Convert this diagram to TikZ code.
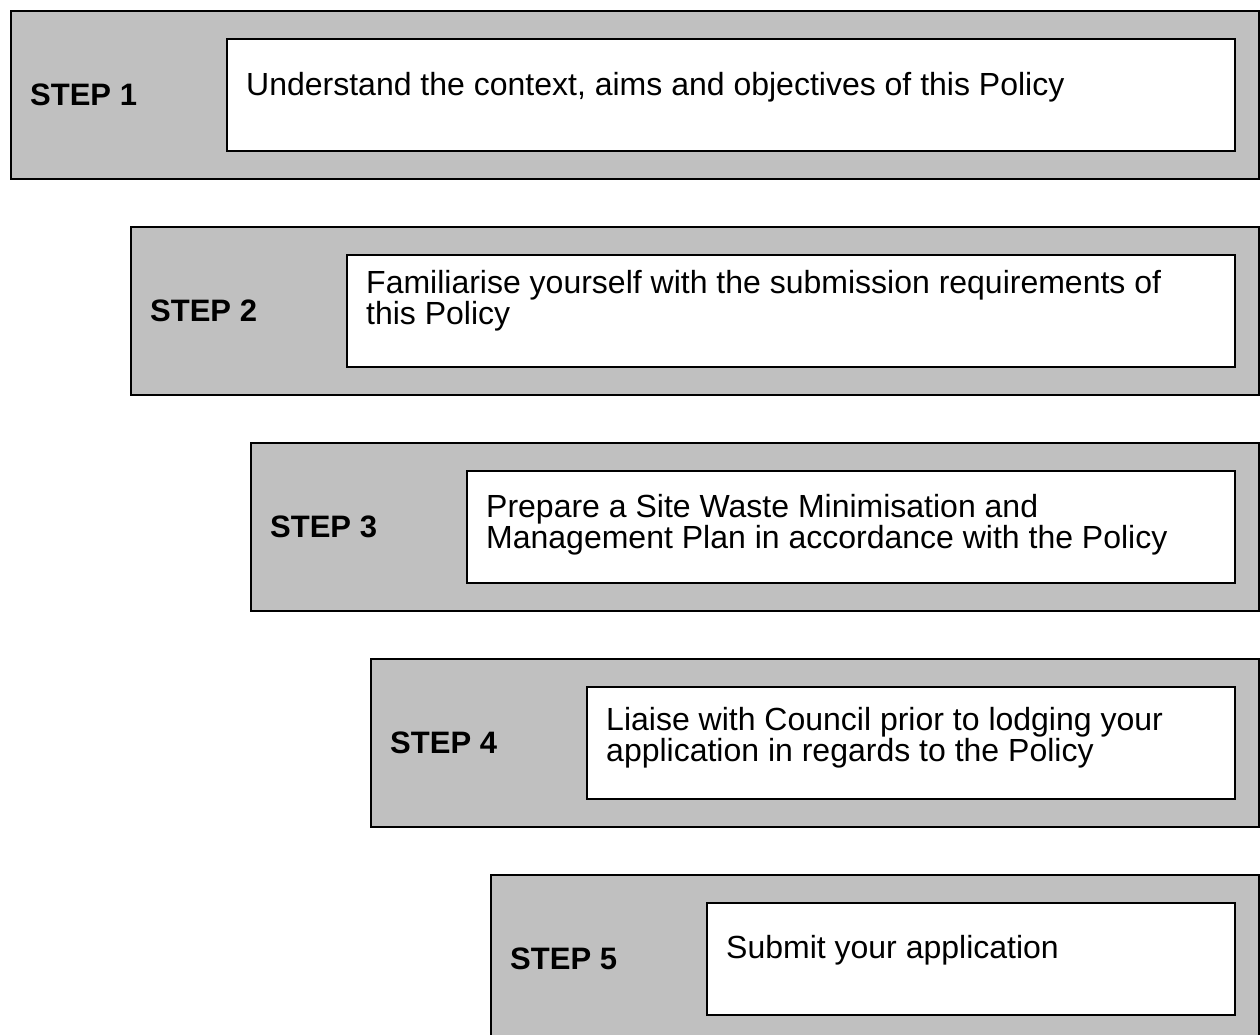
\documentclass[tikz,border=0pt]{standalone}
\usepackage{fontspec}
\setmainfont{Liberation Sans}
\usepackage{xcolor}
\usepackage{tikz}
\usetikzlibrary{calc,positioning}
\definecolor{panel}{HTML}{C0C0C0}
\definecolor{ink}{HTML}{000000}
\tikzset{
  outerbox/.style={draw=ink, fill=panel, line width=1.6pt, rectangle, inner sep=0pt, minimum height=168pt, anchor=north west},
  innerbox/.style={draw=ink, fill=white, line width=1.6pt, rectangle, inner sep=0pt, minimum height=112pt},
  steplbl/.style={text=ink, font=\fontsize{31}{31}\selectfont\bfseries, inner sep=0pt},
  desc/.style={text=ink, font=\fontsize{32}{29}\selectfont, inner sep=0pt, align=left, anchor=base west}
}

\begin{document}
\begin{tikzpicture}[x=1pt, y=-1pt]
  \useasboundingbox (0,0) rectangle (1260,1034);
  \clip (0,0) rectangle (1260,1034);

  % step 1
  \node[outerbox, minimum width=1248pt] (o1) at (10,10) {};
  \node[innerbox, minimum width=1008pt, below right=28pt and 216pt of o1.north west] (i1) {};
  \node[steplbl, right=20pt of o1.west] (s1) {STEP 1};
  \node[desc] (d1) at ($(i1.north west)+(20,57)$) {Understand the context, aims and objectives of this Policy};

  % step 2
  \node[outerbox, minimum width=1128pt] (o2) at (130,226) {};
  \node[innerbox, minimum width=888pt, below right=28pt and 216pt of o2.north west] (i2) {};
  \node[steplbl, right=20pt of o2.west] (s2) {STEP 2};
  \node[desc] (d2) at ($(i2.north west)+(20,70)$) {Familiarise yourself with the submission requirements of\\this Policy};

  % step 3
  \node[outerbox, minimum width=1008pt] (o3) at (250,442) {};
  \node[innerbox, minimum width=768pt, below right=28pt and 216pt of o3.north west] (i3) {};
  \node[steplbl, right=20pt of o3.west] (s3) {STEP 3};
  \node[desc] (d3) at ($(i3.north west)+(20,78)$) {Prepare a Site Waste Minimisation and\\Management Plan in accordance with the Policy};

  % step 4
  \node[outerbox, minimum width=888pt] (o4) at (370,658) {};
  \node[innerbox, minimum width=648pt, below right=28pt and 216pt of o4.north west] (i4) {};
  \node[steplbl, right=20pt of o4.west] (s4) {STEP 4};
  \node[desc] (d4) at ($(i4.north west)+(20,75)$) {Liaise with Council prior to lodging your\\application in regards to the Policy};

  % step 5
  \node[outerbox, minimum width=768pt] (o5) at (490,874) {};
  \node[innerbox, minimum width=528pt, below right=28pt and 216pt of o5.north west] (i5) {};
  \node[steplbl, right=20pt of o5.west] (s5) {STEP 5};
  \node[desc] (d5) at ($(i5.north west)+(20,56)$) {Submit your application};
\end{tikzpicture}
\end{document}
